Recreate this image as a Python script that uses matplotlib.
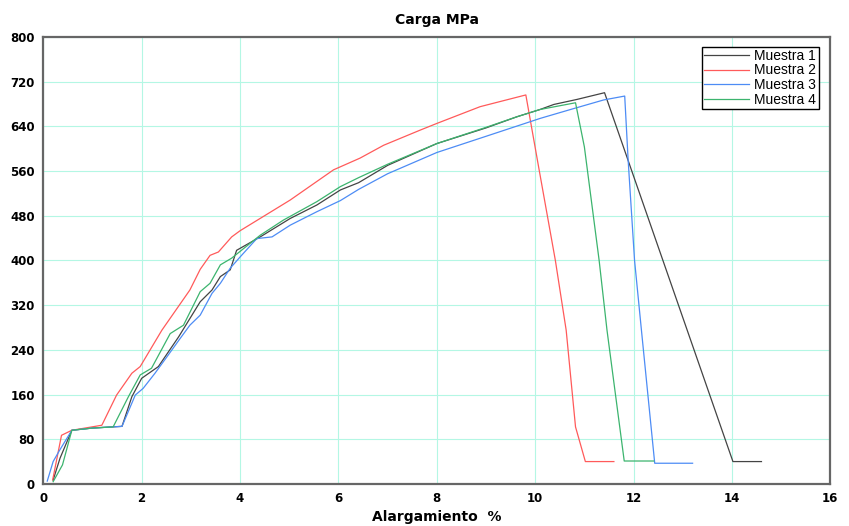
import numpy as np
import matplotlib.pyplot as plt

# datos (Alargamiento %, Carga MPa)
x1 = [0.2, 0.34, 0.58, 1.0, 1.6, 1.8, 2.0, 2.34, 2.75, 3.19, 3.43, 3.6, 3.8, 3.93, 4.41, 5.02, 5.56, 6.04, 6.41, 7.0, 8.0, 9.0, 9.63, 10.1, 10.38, 10.85, 11.41, 14.02, 14.6]
y1 = [7, 46, 96, 100, 103, 156, 189, 210, 263, 326, 347, 371, 383, 418, 442, 475, 499, 526, 539, 570, 609, 637, 657, 670, 679, 688, 700, 40, 40]

x2 = [0.19, 0.37, 0.58, 1.19, 1.49, 1.8, 1.97, 2.41, 2.98, 3.19, 3.39, 3.56, 3.83, 4.0, 5.02, 5.9, 6.44, 6.92, 7.66, 8.0, 8.88, 9.81, 10.07, 10.41, 10.63, 10.82, 11.02, 11.6]
y2 = [7, 87, 96, 105, 159, 198, 210, 275, 347, 384, 409, 415, 442, 453, 508, 562, 583, 606, 633, 645, 675, 696, 567, 400, 275, 102, 40, 40]

x3 = [0.08, 0.2, 0.33, 0.58, 1.0, 1.6, 1.87, 2.03, 2.27, 2.51, 2.78, 2.98, 3.19, 3.43, 3.6, 3.8, 4.0, 4.34, 4.65, 5.02, 5.56, 6.04, 6.41, 7.0, 8.0, 9.0, 10.1, 10.72, 11.39, 11.82, 11.89, 12.02, 12.16, 12.43, 13.2]
y3 = [5, 40, 60, 96, 100, 103, 159, 171, 198, 227, 260, 284, 302, 341, 359, 386, 406, 439, 442, 463, 487, 507, 527, 555, 593, 622, 654, 670, 687, 694, 579, 400, 275, 37, 37]

x4 = [0.2, 0.39, 0.58, 1.0, 1.42, 1.73, 1.97, 2.2, 2.58, 2.85, 3.19, 3.39, 3.6, 3.83, 4.41, 4.88, 5.56, 6.04, 6.41, 7.0, 8.0, 9.0, 9.63, 10.1, 10.82, 11.0, 11.3, 11.46, 11.81, 12.41]
y4 = [4, 34, 96, 100, 102, 156, 195, 207, 269, 284, 344, 359, 392, 404, 445, 472, 505, 532, 548, 572, 609, 638, 657, 670, 682, 603, 400, 275, 41, 41]

series = [("Muestra 1", x1, y1, "#444444"),
          ("Muestra 2", x2, y2, "#ff5a5a"),
          ("Muestra 3", x3, y3, "#4d8cf5"),
          ("Muestra 4", x4, y4, "#3cb46e")]

fig = plt.figure(figsize=(8.49, 5.26), dpi=100)
ax = fig.add_axes([0.051, 0.080, 0.927, 0.850])

for name, xs, ys, c in series:
    ax.plot(xs, ys, color=c, lw=0.9, label=name)

ax.set_xlim(0, 16)
ax.set_ylim(0, 800)
ax.set_xticks(np.arange(0, 17, 2))
ax.set_yticks(np.arange(0, 801, 80))
ax.grid(True, color="#b4f7e4", lw=0.8)
ax.set_axisbelow(True)
ax.tick_params(length=0, labelsize=8.5, pad=6)
for lab in ax.get_xticklabels() + ax.get_yticklabels():
    lab.set_fontweight("bold")
for s in ax.spines.values():
    s.set_color("#666666")
    s.set_linewidth(1.6)

ax.set_title("Carga MPa", fontsize=10, fontweight="bold", pad=9)
ax.set_xlabel("Alargamiento  %", fontsize=10, fontweight="bold")
ax.xaxis.set_label_coords(0.5, -0.058)

leg = ax.legend(loc="upper right", bbox_to_anchor=(0.985, 0.978), fancybox=False,
                edgecolor="black", framealpha=1, handlelength=3.2,
                borderpad=0.15, labelspacing=0.05, handletextpad=0.4,
                borderaxespad=0.0,
                prop={"family": "Liberation Sans", "size": 10})
leg.get_frame().set_linewidth(1.0)

fig.savefig("out.png", dpi=100)
